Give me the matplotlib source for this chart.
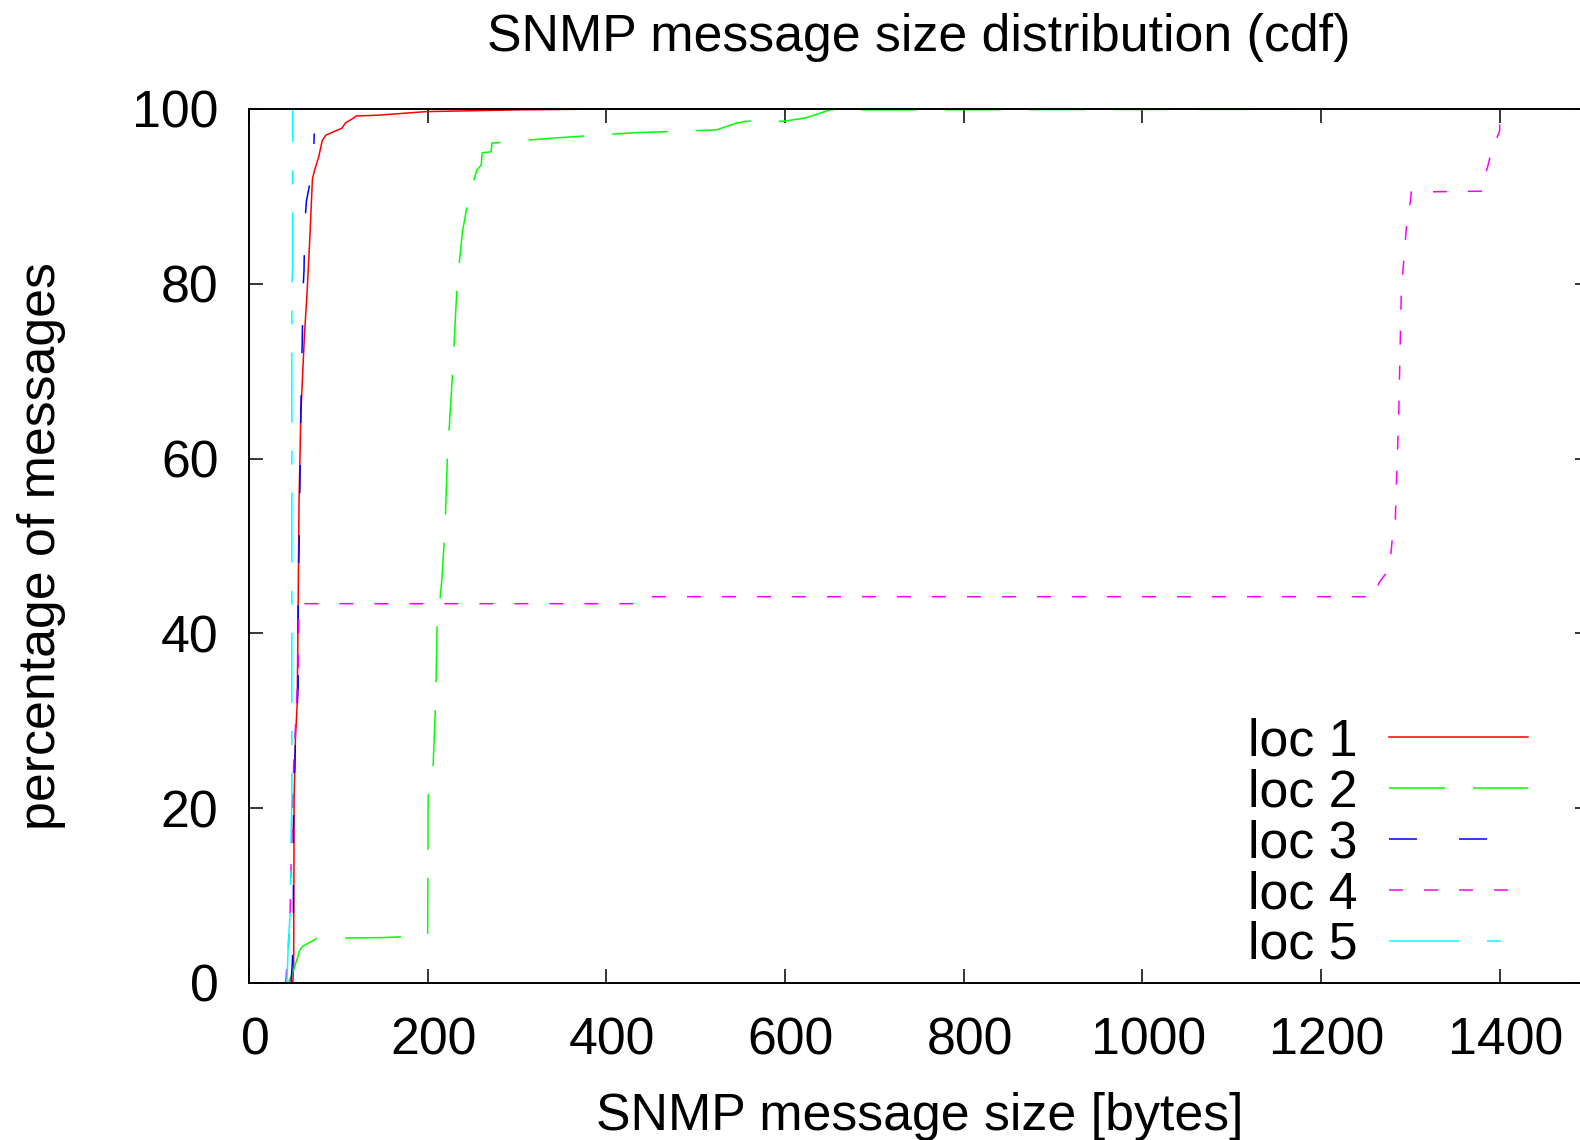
import matplotlib
matplotlib.use("Agg")
import matplotlib.pyplot as plt
import matplotlib.transforms as mtransforms

plt.rcParams['font.family'] = ['Liberation Sans', 'DejaVu Sans']
plt.rcParams['lines.scale_dashes'] = False

title = "SNMP message size distribution (cdf)"
xlabel = "SNMP message size [bytes]"
ylabel = "percentage of messages"
labels = ["loc 1", "loc 2", "loc 3", "loc 4", "loc 5"]
xticks = [0, 200, 400, 600, 800, 1000, 1200, 1400]
yticks = [0, 20, 40, 60, 80, 100]

loc1_x = [49, 50, 50.5, 52, 54, 55, 56, 58, 62, 65, 68, 71, 74, 78, 82, 86, 97, 104, 108, 116, 120, 146, 198, 300, 400, 1400]
loc1_y = [0, 2, 21, 28, 32, 43, 55, 65, 74, 79, 85, 92, 93.2, 94.5, 96.4, 97, 97.5, 97.8, 98.4, 98.9, 99.2, 99.3, 99.7, 99.9, 100, 100]

loc2_x = [44, 50, 57, 60, 76, 150, 198, 200, 200.5, 203, 206, 209, 210.6, 213, 216, 219.5, 222, 228, 233, 239, 246, 255, 260, 261, 271, 272, 344, 434, 523, 543, 556, 599, 624, 650, 1400]
loc2_y = [0, 1.5, 3.8, 4.2, 5.1, 5.2, 5.4, 5.5, 21.3, 23, 24.6, 32.4, 41, 43, 46.3, 52.2, 60, 70, 80, 86, 90, 93, 93.6, 95, 95.1, 96.1, 96.7, 97.3, 97.6, 98.3, 98.6, 98.6, 99, 99.9, 100]

loc3_x = [47, 48.5, 49.7, 49.7, 52, 55, 55, 55.5, 56, 56.8, 58, 59.5, 60.5, 61.6, 62.3, 64.2, 72, 72.8, 73]
loc3_y = [0, 2.3, 7.6, 18, 28, 33.8, 41.8, 46.7, 49.5, 55.3, 65, 73, 79.3, 81.6, 86.5, 89.4, 93.6, 96.5, 97.2]

loc4_x = [41, 44, 46, 47, 50, 55, 56, 440, 450, 1261, 1262, 1265, 1270, 1276, 1278, 1280, 1283, 1287, 1290, 1293, 1296, 1300, 1301, 1381, 1385, 1388, 1391, 1395, 1400, 1400]
loc4_y = [0, 4, 8, 13, 25, 36, 43.4, 43.4, 44.2, 44.2, 44.7, 45.8, 46.5, 47.2, 48.8, 51.1, 52.5, 65, 79.6, 83, 87, 89.4, 90.5, 90.6, 92.8, 94, 95.3, 96.2, 97.5, 100]

loc5_x = [42.5, 44, 46, 47, 48, 48, 49, 49]
loc5_y = [0, 4.6, 7.8, 16, 21, 80, 82, 100]

series = [
    (loc1_x, loc1_y, '#ff0000', '-'),
    (loc2_x, loc2_y, '#00ff00', (0, (40.3, 20.2))),
    (loc3_x, loc3_y, '#0000ff', (0, (20.2, 30.2))),
    (loc4_x, loc4_y, '#ff00ff', (0, (10.1, 15.1))),
    (loc5_x, loc5_y, '#00ffff', (0, (50.4, 20.2, 10.1, 20.2))),
]

FS = 37.4

fig = plt.figure(figsize=(15.8, 11.4), dpi=100)
ax = fig.add_axes([249/1580, 1 - 983/1140, (1589 - 249)/1580, (983 - 109)/1140])

for (xs, ys, c, ls), lab in zip(series, labels):
    ax.plot(xs, ys, color=c, linestyle=ls, linewidth=1.1, label=lab)

ax.set_xlim(0, 1500)
ax.set_ylim(0, 100)
ax.set_xticks(xticks)
ax.set_yticks(yticks)
ax.tick_params(axis='both', which='major', direction='in', length=10, width=1.1,
               top=True, right=True, labelsize=FS)
ax.tick_params(axis='x', pad=24)
ax.tick_params(axis='y', pad=22)
for s in ax.spines.values():
    s.set_linewidth(1.4)

shift = mtransforms.ScaledTranslation(6/100, 0, fig.dpi_scale_trans)
for lbl in ax.get_xticklabels():
    lbl.set_transform(lbl.get_transform() + shift)

ax.set_title(title, fontsize=FS, pad=42)
ax.set_xlabel(xlabel, fontsize=FS)
ax.set_ylabel(ylabel, fontsize=FS)
ax.xaxis.set_label_coords(0.5007, -0.1245)
ax.yaxis.set_label_coords(-0.1366, 0.5)

leg = ax.legend(loc='center right', bbox_to_anchor=(0.9545, 0.1594), frameon=False,
                fontsize=FS, markerfirst=False, handlelength=100/FS, handletextpad=23/FS,
                labelspacing=0.035, borderpad=0, borderaxespad=0)

fig.savefig("out.png", dpi=100)
